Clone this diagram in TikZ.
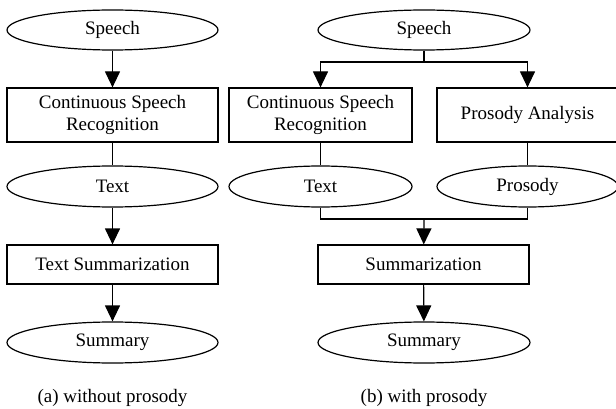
\documentclass[tikz,border=0pt]{standalone}
\usepackage{fontspec}
\setmainfont{Liberation Serif}
\usetikzlibrary{shapes.geometric,arrows.meta}
\begin{document}
\begin{tikzpicture}[x=1pt,y=-1pt,
  every node/.style={font=\fontsize{19}{22}\selectfont, inner sep=0pt, align=center},
  ell/.style={draw, ellipse, line width=1.2pt, minimum height=40pt},
  box/.style={draw, rectangle, line width=1.2pt},
  conn/.style={line width=1.2pt},
  arr/.style={line width=1.2pt, -{Triangle[width=15pt,length=16pt]}}]
\useasboundingbox (0,0) rectangle (616,409);
\clip (0,0) rectangle (616,409);
% (a)
\node[ell, minimum width=211pt] (sA) at (112.5,30) {Speech};
\node[box, minimum width=211pt, minimum height=54pt] (cA) at (112.5,115) {Continuous Speech\\Recognition};
\node[ell, minimum width=211pt, minimum height=41pt] (tA) at (112.5,186.5) {Text};
\node[box, minimum width=211pt, minimum height=39pt] (mA) at (112.5,264.5) {Text Summarization};
\node[ell, minimum width=211pt, minimum height=41pt] (yA) at (112.5,342.5) {Summary};
\node (capA) at (112.5,398) {(a) without prosody};
\draw[arr] (sA) -- (cA);
\draw[conn] (cA) -- (tA);
\draw[arr] (tA) -- (mA);
\draw[arr] (mA) -- (yA);
% (b)
\node[ell, minimum width=212pt] (sB) at (424,30) {Speech};
\node[box, minimum width=183pt, minimum height=54pt] (cB) at (320.5,115) {Continuous Speech\\Recognition};
\node[box, minimum width=181pt, minimum height=54pt] (pB) at (527.5,115) {Prosody Analysis};
\node[ell, minimum width=183pt, minimum height=41pt] (tB) at (320.5,186.5) {Text};
\node[ell, minimum width=181pt, minimum height=41pt] (rB) at (527.5,186.5) {Prosody};
\node[box, minimum width=211pt, minimum height=39pt] (mB) at (423.5,264.5) {Summarization};
\node[ell, minimum width=212pt, minimum height=41pt] (yB) at (424,342.5) {Summary};
\node (capB) at (424,398) {(b) with prosody};
\coordinate (j1) at (424,62);
\coordinate (j2) at (424,219);
\draw[conn] (sB) -- (j1);
\draw[arr] (j1) -| (cB);
\draw[arr] (j1) -| (pB);
\draw[conn] (cB.south) -- (tB.north);
\draw[conn] (pB.south) -- (rB.north);
\draw[conn] (tB.south) |- (j2) -| (rB.south);
\draw[arr] (j2) -- (mB);
\draw[arr] (mB) -- (yB);
\end{tikzpicture}
\end{document}
